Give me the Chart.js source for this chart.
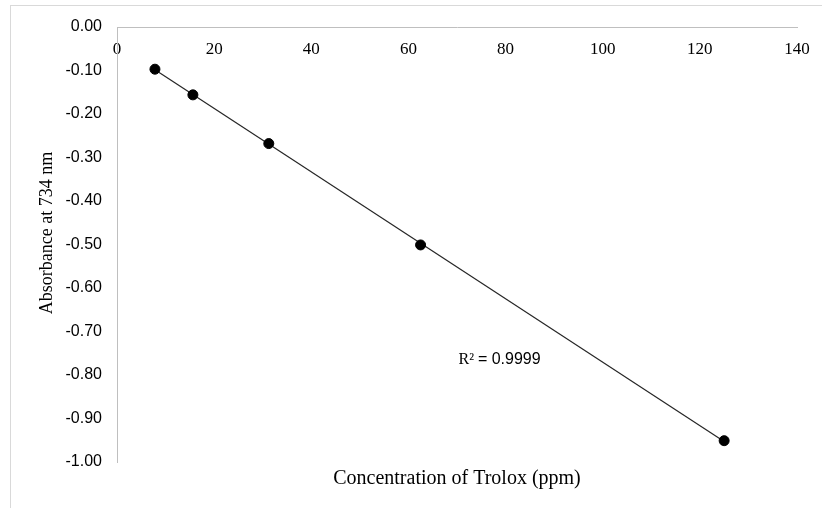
<!DOCTYPE html>
<html lang="en">
<head>
<meta charset="UTF-8">
<title>Trolox standard curve</title>
<script src="https://cdn.jsdelivr.net/npm/chart.js@4.4.0/dist/chart.umd.min.js"></script>
<style>
  body { margin: 0; background: #fff; }
</style>
</head>
<body>
<canvas id="chart" width="822" height="508"></canvas>
<script>
// Trolox concentrations (ppm) and measured absorbance at 734 nm
const concentrations = [7.8125, 15.625, 31.25, 62.5, 125];
const absorbances = [-0.097, -0.156, -0.268, -0.501, -0.951];
const r2Label = 'R\u00b2 = 0.9999';
const yTitle = 'Absorbance at 734 nm';
const xTitle = 'Concentration of Trolox (ppm)';

// least-squares trendline, drawn from the first to the last point
function linearFit(xs, ys) {
  const n = xs.length;
  const mx = xs.reduce((a, b) => a + b, 0) / n;
  const my = ys.reduce((a, b) => a + b, 0) / n;
  let sxy = 0, sxx = 0;
  for (let i = 0; i < n; i++) {
    sxy += (xs[i] - mx) * (ys[i] - my);
    sxx += (xs[i] - mx) * (xs[i] - mx);
  }
  const slope = sxy / sxx;
  return { slope, intercept: my - slope * mx };
}
const fit = linearFit(concentrations, absorbances);
const xMin = Math.min(...concentrations), xMax = Math.max(...concentrations);
const trend = [xMin, xMax].map(x => ({ x, y: fit.slope * x + fit.intercept }));

const serif = '"Liberation Serif", "Times New Roman", serif';
const sans = '"Liberation Sans", Arial, sans-serif';

const frame = {
  id: 'frame',
  beforeDraw(chart) {
    const ctx = chart.ctx;
    ctx.save();
    ctx.fillStyle = '#fff';
    ctx.fillRect(0, 0, chart.width, chart.height);
    ctx.strokeStyle = '#d9d9d9';
    ctx.lineWidth = 1;
    ctx.strokeRect(10.5, 5.5, 1000, 1000);
    ctx.restore();
  }
};

// y axis title (Excel places it a little above the plot centre) and R² note
const texts = {
  id: 'texts',
  afterDatasetsDraw(chart) {
    const ctx = chart.ctx;
    ctx.save();
    ctx.fillStyle = '#000';
    ctx.textBaseline = 'middle';

    ctx.save();
    ctx.translate(47, 233);
    ctx.rotate(-Math.PI / 2);
    ctx.textAlign = 'center';
    ctx.font = '18px ' + serif;
    ctx.fillText(yTitle, 0, 0);
    ctx.restore();

    const px = chart.scales.x.getPixelForValue(70.3);
    const py = chart.scales.y.getPixelForValue(-0.764);
    ctx.textAlign = 'left';
    const parts = r2Label.split(' = ');
    ctx.font = '16px ' + serif;
    const head = parts[0] + ' ';
    ctx.fillText(head, px, py);
    const w = ctx.measureText(head).width;
    ctx.font = '16px ' + sans;
    ctx.fillText('= ' + parts[1], px + w, py);
    ctx.restore();
  }
};

new Chart(document.getElementById('chart'), {
  type: 'scatter',
  data: {
    datasets: [
      {
        label: 'Trendline',
        data: trend,
        showLine: true,
        borderColor: '#262626',
        borderWidth: 1.2,
        pointRadius: 0,
        order: 2
      },
      {
        label: 'Absorbance',
        data: concentrations.map((x, i) => ({ x, y: absorbances[i] })),
        backgroundColor: '#000',
        borderColor: '#000',
        pointRadius: 5,
        order: 1
      }
    ]
  },
  options: {
    responsive: false,
    animation: false,
    layout: { padding: { left: 10, right: 25, top: 27, bottom: 11 } },
    plugins: {
      legend: { display: false },
      tooltip: { enabled: false },
      title: {
        display: true,
        position: 'bottom',
        fullSize: false,
        text: xTitle,
        color: '#000',
        font: { family: serif, size: 20, weight: 'normal' },
        padding: { top: 5, bottom: 6 }
      }
    },
    scales: {
      x: {
        type: 'linear',
        position: { y: 0 },
        min: 0,
        max: 140,
        ticks: {
          stepSize: 20,
          padding: 4,
          color: '#000',
          font: { family: serif, size: 17 }
        },
        grid: { display: false },
        border: { display: true, color: '#bfbfbf', width: 1 }
      },
      y: {
        type: 'linear',
        position: 'left',
        min: -1,
        max: 0,
        afterFit(scale) { scale.width = 107; },
        ticks: {
          stepSize: 0.1,
          padding: 7,
          color: '#000',
          font: { family: sans, size: 16 },
          callback: v => v.toFixed(2)
        },
        grid: { display: false },
        border: { display: true, color: '#bfbfbf', width: 1 }
      }
    }
  },
  plugins: [frame, texts]
});
</script>
</body>
</html>
